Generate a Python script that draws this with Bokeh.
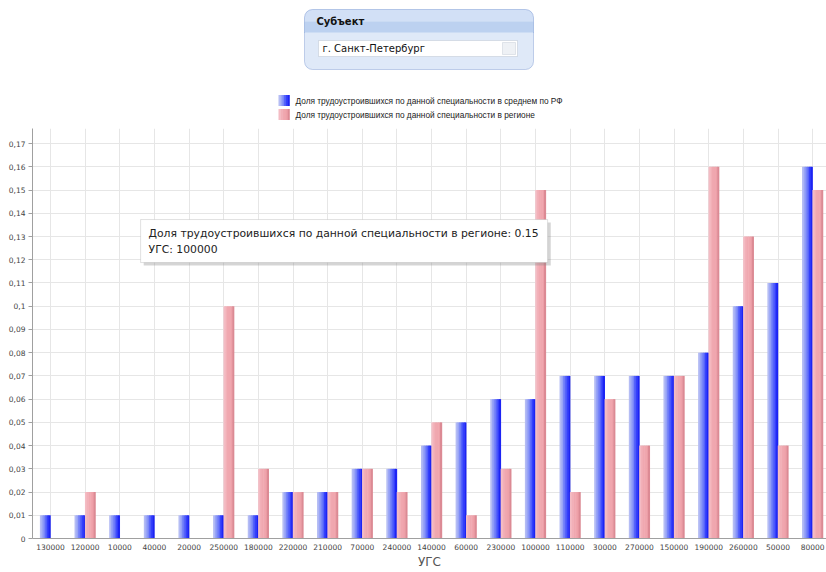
from bokeh.plotting import figure
from bokeh.models import FixedTicker, BoxAnnotation, Label, Range1d
from bokeh.layouts import column
from bokeh.embed import file_html
from bokeh.resources import INLINE

# ---------------- data ----------------
categories = ["130000", "120000", "10000", "40000", "20000", "250000", "180000",
              "220000", "210000", "70000", "240000", "140000", "60000", "230000",
              "100000", "110000", "30000", "270000", "150000", "190000", "260000",
              "50000", "80000"]
rf_share = [0.01, 0.01, 0.01, 0.01, 0.01, 0.01, 0.01, 0.02, 0.02, 0.03, 0.03, 0.04,
            0.05, 0.06, 0.06, 0.07, 0.07, 0.07, 0.07, 0.08, 0.10, 0.11, 0.16]
region_share = [0.0, 0.02, 0.0, 0.0, 0.0, 0.10, 0.03, 0.02, 0.02, 0.03, 0.02, 0.05,
                0.01, 0.03, 0.15, 0.02, 0.06, 0.04, 0.07, 0.16, 0.13, 0.04, 0.15]
y_ticks = [0.0, 0.01, 0.02, 0.03, 0.04, 0.05, 0.06, 0.07, 0.08, 0.09, 0.10,
           0.11, 0.12, 0.13, 0.14, 0.15, 0.16, 0.17]
y_tick_labels = ["0", "0,01", "0,02", "0,03", "0,04", "0,05", "0,06", "0,07", "0,08",
                 "0,09", "0,1", "0,11", "0,12", "0,13", "0,14", "0,15", "0,16", "0,17"]
rf_name = "Доля трудоустроившихся по данной специальности в среднем по РФ"
region_name = "Доля трудоустроившихся по данной специальности в регионе"
x_title = "УГС"
panel_title = "Субъект"
subject_name = "г. Санкт-Петербург"
hover_category = "100000"

# ---------------- styles ----------------
FONT = "DejaVu Sans"
LEG_FONT = "Liberation Sans"
blue_grad = ["#b4bcf4", "#98a4f6", "#7886f8", "#5664fa", "#3440fc", "#1c24f4"]
pink_grad = ["#f4bcc4", "#f2b0b8", "#f0a8b0", "#f0a6ae", "#eea0a8", "#dc8a94"]
bar_w = 0.3

n = len(categories)
idx = list(range(n))

# ---------------- chart ----------------
p = figure(width=826, height=444, x_range=Range1d(-0.52, 22.4), y_range=Range1d(0, 0.1765),
           output_backend="svg", toolbar_location=None,
           min_border_left=32, min_border_right=0, min_border_top=0, min_border_bottom=34)
p.outline_line_color = None
p.background_fill_color = "white"

ns = len(blue_grad)
sw = bar_w / ns
for k in range(ns):
    xb = [i - bar_w + (k + 0.5) * sw for i in idx]
    p.vbar(x=xb, top=rf_share, width=sw * 1.25, fill_color=blue_grad[k], line_color=None)
for k in range(ns):
    xp = [i + (k + 0.5) * sw for i in idx]
    p.vbar(x=xp, top=region_share, width=sw * 1.25, fill_color=pink_grad[k], line_color=None)
# baseline marks of region bars (visible where value is 0)
p.segment(x0=[i for i in idx], y0=[0] * n, x1=[i + bar_w for i in idx], y1=[0] * n,
          line_color="#a04858", line_width=1)

p.xaxis.ticker = FixedTicker(ticks=idx)
p.xaxis.major_label_overrides = {i: c for i, c in zip(idx, categories)}
p.xgrid.ticker = FixedTicker(ticks=idx)
p.yaxis.ticker = FixedTicker(ticks=y_ticks)
p.yaxis.major_label_overrides = {t: s for t, s in zip(y_ticks, y_tick_labels)}
p.xgrid.grid_line_color = "#e6e6e6"
p.ygrid.grid_line_color = "#e6e6e6"

for ax in (p.xaxis[0], p.yaxis[0]):
    ax.axis_line_color = "#a0a0a0"
    ax.major_tick_line_color = "#a0a0a0"
    ax.minor_tick_line_color = None
    ax.major_label_text_font = FONT
    ax.major_label_text_font_size = "7.5px"
    ax.major_label_text_color = "#444444"
p.yaxis.major_tick_out = 4
p.yaxis.major_tick_in = 0
p.yaxis.major_label_standoff = 3
p.xaxis.major_tick_out = 0
p.xaxis.major_tick_in = 0
p.xaxis.major_label_standoff = 5
p.xaxis.axis_label = x_title
p.xaxis.axis_label_text_font = FONT
p.xaxis.axis_label_text_font_size = "12px"
p.xaxis.axis_label_text_font_style = "normal"
p.xaxis.axis_label_text_color = "#555555"
p.xaxis.axis_label_standoff = 2

# tooltip for hovered region bar
hi = categories.index(hover_category)
tip_l, tip_r, tip_t, tip_b = 2.6, 14.35, 0.1373, 0.1188
p.add_layout(BoxAnnotation(left=tip_l + 0.09, right=tip_r + 0.09, top=tip_t - 0.0013,
                           bottom=tip_b - 0.0013, fill_color="#888888", fill_alpha=0.35,
                           line_color=None))
p.add_layout(BoxAnnotation(left=tip_l, right=tip_r, top=tip_t, bottom=tip_b,
                           fill_color="white", fill_alpha=1, line_color="#9a9a9a",
                           line_width=1))
p.add_layout(Label(x=tip_l + 0.23, y=0.1313,
                   text=f"{region_name}: {region_share[hi]}",
                   text_font=FONT, text_font_size="10.8px", text_color="#222222",
                   text_baseline="middle"))
p.add_layout(Label(x=tip_l + 0.23, y=0.1244, text=f"{x_title}: {hover_category}",
                   text_font=FONT, text_font_size="10.8px", text_color="#222222",
                   text_baseline="middle"))

# ---------------- top panel + legend ----------------
# (column aligns this figure's frame with the chart frame, which starts 32px in)
tf = figure(width=826, height=128, x_range=Range1d(32, 826), y_range=Range1d(128, 0),
            output_backend="svg", toolbar_location=None,
            min_border_left=32, min_border_right=0, min_border_top=0, min_border_bottom=0,
            x_axis_location=None, y_axis_location=None)
tf.grid.visible = False
tf.outline_line_color = None

# panel box
tf.add_layout(BoxAnnotation(left=304, right=533, top=9, bottom=69, border_radius=8,
                            fill_color="#dfe9f8", fill_alpha=1, line_color=None))
tf.add_layout(BoxAnnotation(left=304, right=533, top=9, bottom=21, border_radius=(8, 8, 0, 0),
                            fill_color="#d2e0f6", fill_alpha=1, line_color=None))
tf.add_layout(BoxAnnotation(left=304, right=533, top=21, bottom=32,
                            fill_color="#bcd1f0", fill_alpha=1, line_color=None))
tf.segment(x0=[304], y0=[32], x1=[533], y1=[32], line_color="#86a4d8", line_width=1)
tf.add_layout(BoxAnnotation(left=304, right=533, top=9, bottom=69, border_radius=8,
                            fill_alpha=0, line_color="#4a6fc0", line_width=1))
tf.add_layout(Label(x=316, y=21, text=panel_title, text_font=FONT, text_font_size="10px",
                    text_font_style="bold", text_color="#111111", text_baseline="middle"))
# select box
tf.add_layout(BoxAnnotation(left=318, right=517, top=40, bottom=56, fill_color="white",
                            fill_alpha=1, line_color="#98a4b4", line_width=1))
tf.add_layout(BoxAnnotation(left=502, right=515, top=42, bottom=54, fill_color="#eef1f5",
                            fill_alpha=1, line_color="#a9b3c2", line_width=1))
tf.line(x=[505.5, 508.5, 511.5], y=[46.5, 49.5, 46.5], line_color="#4a5a78", line_width=1.2)
tf.add_layout(Label(x=322, y=48, text=subject_name, text_font=FONT, text_font_size="10px",
                    text_color="#111111", text_baseline="middle"))

# legend
series = [(rf_name, blue_grad, 100), (region_name, pink_grad, 114)]
for name, grad, yc in series:
    ksw = 11 / len(grad)
    for k, c in enumerate(grad):
        tf.quad(left=[278 + k * ksw], right=[278 + (k + 1) * ksw + 0.3],
                top=[yc - 5.5], bottom=[yc + 5.5], fill_color=c, line_color=None)
    tf.add_layout(Label(x=295, y=yc, text=name, text_font=LEG_FONT, text_font_size="8.3px",
                        text_color="#222222", text_baseline="middle"))

layout = column(tf, p, spacing=0)
open("out.html", "w").write(file_html(layout, INLINE))
